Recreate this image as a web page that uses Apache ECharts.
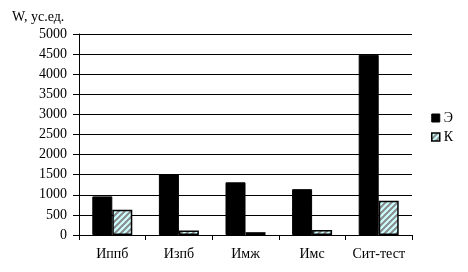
<!DOCTYPE html>
<html><head><meta charset="utf-8">
<script src="https://cdn.jsdelivr.net/npm/echarts@6/dist/echarts.min.js"></script>
<style>html,body{margin:0;padding:0;background:#fff}#c{width:468px;height:272px}</style>
</head><body><div id="c"></div>
<script>
var categories = ['Иппб', 'Изпб', 'Имж', 'Имс', 'Сит-тест'];
var seriesE = [960, 1510, 1310, 1140, 4480];
var seriesK = [630, 110, 70, 125, 850];
var yTicks = [0, 500, 1000, 1500, 2000, 2500, 3000, 3500, 4000, 4500, 5000];

function hatch() {
  var c = document.createElement('canvas');
  c.width = 6; c.height = 6;
  var g = c.getContext('2d');
  g.fillStyle = '#ccffff';
  g.fillRect(0, 0, 6, 6);
  g.strokeStyle = '#8a8a8a';
  g.lineWidth = 2;
  g.beginPath();
  g.moveTo(-1, 7); g.lineTo(7, -1);
  g.moveTo(-4, 4); g.lineTo(4, -4);
  g.moveTo(2, 10); g.lineTo(10, 2);
  g.stroke();
  return c;
}
var pat = {image: hatch(), repeat: 'repeat'};
var font = "'Liberation Serif', 'DejaVu Serif', serif";
var chart = echarts.init(document.getElementById('c'));
chart.setOption({
  animation: false,
  textStyle: {fontFamily: font},
  grid: {left: 79, right: 56, top: 34, bottom: 37},
  title: {text: 'W, ус.ед.', left: 7, top: 5, textStyle: {fontFamily: font, fontSize: 14, fontWeight: 'normal', color: '#000'}},
  legend: {
    orient: 'vertical', left: 426, top: 106, itemWidth: 8, itemHeight: 8, itemGap: 5,
    textStyle: {fontFamily: font, fontSize: 14, color: '#000', padding: [0,0,0,-1]},
    data: [
      {name: 'Э', icon: 'rect', itemStyle: {color: '#000', borderColor: '#000', borderWidth: 1}},
      {name: 'К', icon: 'rect', itemStyle: {color: pat, borderColor: '#000', borderWidth: 1.5}}
    ]
  },
  xAxis: {
    type: 'category', data: categories,
    axisLine: {lineStyle: {color: '#000', width: 1}},
    axisTick: {show: true, length: 5, lineStyle: {color: '#000'}},
    axisLabel: {color: '#000', fontFamily: font, fontSize: 14, margin: 12, interval: 0, hideOverlap: false}
  },
  yAxis: {
    type: 'value', min: 0, max: 5000, interval: 500,
    axisLine: {show: true, lineStyle: {color: '#000', width: 1}},
    axisTick: {show: true, length: 6, lineStyle: {color: '#000'}},
    splitLine: {show: true, lineStyle: {color: '#000', width: 1}},
    axisLabel: {color: '#000', fontFamily: font, fontSize: 14, margin: 12,
      formatter: function (v) { return yTicks.indexOf(v) >= 0 ? String(v) : ''; }}
  },
  series: [
    {name: 'Э', type: 'bar', data: seriesE, barWidth: 20, barGap: '0%',
      itemStyle: {color: '#000', borderColor: '#000', borderWidth: 1}},
    {name: 'К', type: 'bar', data: seriesK, barWidth: 20, barGap: '0%',
      itemStyle: {color: pat, borderColor: '#000', borderWidth: 1.5}}
  ]
});
</script></body></html>
